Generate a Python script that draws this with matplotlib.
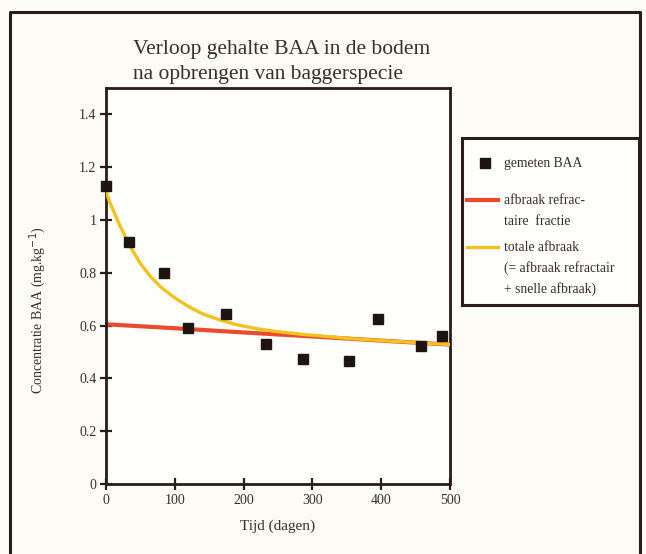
import matplotlib.pyplot as plt
from matplotlib.lines import Line2D

plt.rcParams['font.family'] = ['Liberation Serif', 'DejaVu Serif']

# gemeten BAA (dagen, mg/kg)
dagen = [0, 34, 85, 119, 174, 233, 286, 353, 396, 458, 489]
gemeten = [1.13, 0.915, 0.80, 0.59, 0.645, 0.532, 0.473, 0.467, 0.625, 0.524, 0.56]

t_refr = [0, 100, 200, 300, 400, 500]
refractair = [0.605, 0.590, 0.574, 0.559, 0.543, 0.528]

t_tot = [0, 5, 10, 20, 34, 50, 65, 80, 100, 120, 140, 165, 190, 220, 250, 285, 320, 360, 400, 450, 500]
totaal = [1.11, 1.07, 1.04, 0.98, 0.905, 0.835, 0.785, 0.745, 0.705, 0.672, 0.645, 0.622, 0.603, 0.588, 0.577, 0.567, 0.559, 0.550, 0.543, 0.536, 0.528]

x_ticks = [0, 100, 200, 300, 400, 500]
y_ticks = [0, 0.2, 0.4, 0.6, 0.8, 1.0, 1.2, 1.4]
y_ticklabels = ['0', '0.2', '0.4', '0.6', '0.8', '1', '1.2', '1.4']

ink = '#2a1c18'
tekst = '#3a2e2a'
rood = '#ec4a2c'
geel = '#f2c21e'
W, H = 646, 554

fig = plt.figure(figsize=(W / 100, H / 100), dpi=100, facecolor='#fcfbf6')

def fx(px):
    return px / W

def fy(py):
    return 1 - py / H

# buitenkader
fig.add_artist(Line2D([fx(10), fx(10), fx(640), fx(640)],
                      [fy(552), fy(12), fy(12), fy(552)],
                      color=ink, lw=2.2, transform=fig.transFigure))

ax = fig.add_axes([fx(106), fy(484), fx(450) - fx(106), fy(88) - fy(484)])
ax.set_facecolor('#fefefd')
ax.plot(t_refr, refractair, color=rood, lw=3.0, solid_capstyle='butt', zorder=2)
ax.plot(t_tot, totaal, color=geel, lw=2.4, zorder=3)
ax.plot(dagen, gemeten, 's', color='#1e1412', ms=7.5, zorder=4, clip_on=False)

ax.set_xlim(0, 500)
ax.set_ylim(0, 1.5)
ax.set_xticks(x_ticks)
ax.set_yticks(y_ticks)
ax.set_yticklabels(y_ticklabels)
ax.tick_params(direction='inout', length=8, width=1.6, color=ink,
               labelsize=10, labelcolor=tekst, pad=3)
for s in ax.spines.values():
    s.set_color(ink)
    s.set_linewidth(2.0)
ax.set_xlabel('Tijd (dagen)', fontsize=11, color=tekst)
ax.xaxis.set_label_coords(0.5, -0.09)
ax.set_ylabel('Concentratie BAA (mg.kg$^{-1}$)', fontsize=10, color=tekst)
ax.yaxis.set_label_coords(-0.17, 0.44)

fig.text(fx(133), fy(62), 'Verloop gehalte BAA in de bodem\nna opbrengen van baggerspecie',
         fontsize=15.5, color=tekst, va='center', ha='left', linespacing=1.4)

# legenda
lg = fig.add_axes([fx(462), fy(305), fx(639) - fx(462), fy(138) - fy(305)])
lg.set_xlim(462, 639)
lg.set_ylim(305, 138)
lg.set_xticks([])
lg.set_yticks([])
lg.set_facecolor('#fefefd')
for s in lg.spines.values():
    s.set_color(ink)
    s.set_linewidth(2.2)
lg.plot([485], [163], 's', color='#1e1412', ms=7)
lg.plot([467, 498], [200, 200], color=rood, lw=3.0)
lg.plot([467, 498], [247, 247], color=geel, lw=2.4)
tk = dict(fontsize=9.8, color=tekst, va='center', ha='left')
lg.text(504, 163, 'gemeten BAA', **tk)
lg.text(504, 200, 'afbraak refrac-', **tk)
lg.text(504, 221, 'taire  fractie', **tk)
lg.text(504, 247, 'totale afbraak', **tk)
lg.text(504, 268, '(= afbraak refractair', **tk)
lg.text(504, 289, '+ snelle afbraak)', **tk)

fig.savefig('out.png', dpi=100, facecolor=fig.get_facecolor())
